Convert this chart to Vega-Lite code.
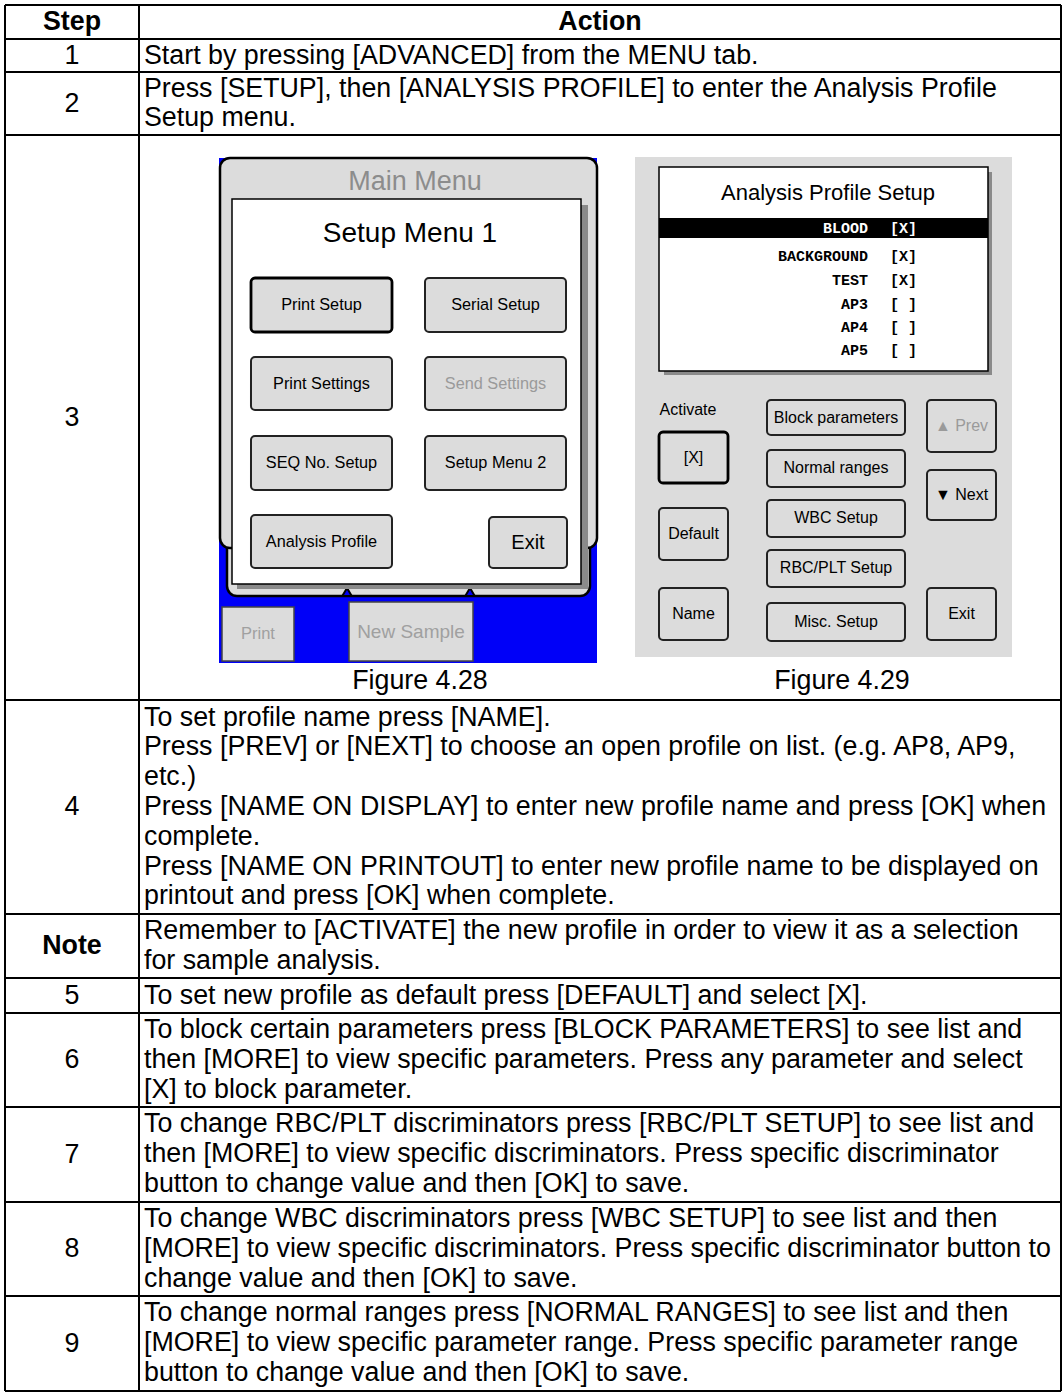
{
  "$schema": "https://vega.github.io/schema/vega-lite/v6.json",
  "width": 1063,
  "height": 1393,
  "autosize": {"type": "fit", "contains": "padding"},
  "padding": 0,
  "background": "#ffffff",
  "config": {"view": {"stroke": null}},
  "datasets": {
    "grid": [
      {"x": 5, "x2": 1061, "y": 5, "y2": 5},
      {"x": 5, "x2": 1061, "y": 39, "y2": 39},
      {"x": 5, "x2": 1061, "y": 72, "y2": 72},
      {"x": 5, "x2": 1061, "y": 135, "y2": 135},
      {"x": 5, "x2": 1061, "y": 700, "y2": 700},
      {"x": 5, "x2": 1061, "y": 914, "y2": 914},
      {"x": 5, "x2": 1061, "y": 978, "y2": 978},
      {"x": 5, "x2": 1061, "y": 1013, "y2": 1013},
      {"x": 5, "x2": 1061, "y": 1107, "y2": 1107},
      {"x": 5, "x2": 1061, "y": 1202, "y2": 1202},
      {"x": 5, "x2": 1061, "y": 1296, "y2": 1296},
      {"x": 5, "x2": 1061, "y": 1391, "y2": 1391},
      {"x": 5, "x2": 5, "y": 5, "y2": 1391},
      {"x": 139, "x2": 139, "y": 5, "y2": 1391},
      {"x": 1061, "x2": 1061, "y": 5, "y2": 1391}
    ],
    "shapes": [
      {"name": "screen 4.28", "kind": "backdrop-blue", "x": 219, "x2": 597, "y": 158, "y2": 663},
      {"name": "screen 4.29", "kind": "backdrop-gray", "x": 635, "x2": 1012, "y": 157, "y2": 657},
      {"name": "tab strip", "kind": "frame", "x": 227, "x2": 590, "y": 520, "y2": 596},
      {"name": "main frame", "kind": "frame", "x": 220, "x2": 597, "y": 158, "y2": 548},
      {"name": "setup panel shadow", "kind": "shadow", "x": 237, "x2": 588, "y": 205, "y2": 589},
      {"name": "profile panel shadow", "kind": "shadow", "x": 664, "x2": 992, "y": 172, "y2": 375},
      {"name": "setup panel", "kind": "panel", "x": 232, "x2": 581, "y": 199, "y2": 584},
      {"name": "profile panel", "kind": "panel", "x": 659, "x2": 988, "y": 167, "y2": 371},
      {"name": "selected row", "kind": "bar", "x": 659, "x2": 988, "y": 218, "y2": 238},
      {"name": "Print Setup", "kind": "button-active", "x": 251, "x2": 392, "y": 278, "y2": 332},
      {"name": "Serial Setup", "kind": "button", "x": 425, "x2": 566, "y": 278, "y2": 332},
      {"name": "Print Settings", "kind": "button", "x": 251, "x2": 392, "y": 357, "y2": 410},
      {"name": "Send Settings", "kind": "button", "x": 425, "x2": 566, "y": 357, "y2": 410},
      {"name": "SEQ No. Setup", "kind": "button", "x": 251, "x2": 392, "y": 436, "y2": 490},
      {"name": "Setup Menu 2", "kind": "button", "x": 425, "x2": 566, "y": 436, "y2": 490},
      {"name": "Analysis Profile", "kind": "button", "x": 251, "x2": 392, "y": 515, "y2": 568},
      {"name": "Exit 4.28", "kind": "button", "x": 489, "x2": 567, "y": 517, "y2": 568},
      {"name": "Activate X", "kind": "button-active", "x": 659, "x2": 728, "y": 432, "y2": 483},
      {"name": "Default", "kind": "button", "x": 659, "x2": 728, "y": 508, "y2": 560},
      {"name": "Name", "kind": "button", "x": 659, "x2": 728, "y": 588, "y2": 640},
      {"name": "Block parameters", "kind": "button", "x": 767, "x2": 905, "y": 400, "y2": 435},
      {"name": "Normal ranges", "kind": "button", "x": 767, "x2": 905, "y": 450, "y2": 487},
      {"name": "WBC Setup", "kind": "button", "x": 767, "x2": 905, "y": 500, "y2": 537},
      {"name": "RBC/PLT Setup", "kind": "button", "x": 767, "x2": 905, "y": 550, "y2": 587},
      {"name": "Misc. Setup", "kind": "button", "x": 767, "x2": 905, "y": 603, "y2": 641},
      {"name": "Prev", "kind": "button", "x": 927, "x2": 996, "y": 400, "y2": 452},
      {"name": "Next", "kind": "button", "x": 927, "x2": 996, "y": 470, "y2": 520},
      {"name": "Exit 4.29", "kind": "button", "x": 927, "x2": 996, "y": 588, "y2": 640},
      {"name": "Print", "kind": "dock", "x": 222, "x2": 294, "y": 607, "y2": 661},
      {"name": "New Sample", "kind": "dock", "x": 349, "x2": 473, "y": 602, "y2": 661}
    ],
    "notches": [
      {"name": "tab gap 1", "x": 347, "y": 592},
      {"name": "tab gap 2", "x": 470, "y": 592}
    ],
    "texts": [
      {"text": "Step", "x": 72, "y": 22, "role": "head"},
      {"text": "Action", "x": 600, "y": 22, "role": "head"},
      {"text": "1", "x": 72, "y": 55.5, "role": "step"},
      {"text": "Start by pressing [ADVANCED] from the MENU tab.", "x": 144, "y": 55.5, "role": "action"},
      {"text": "2", "x": 72, "y": 103.5, "role": "step"},
      {"text": "Press [SETUP], then [ANALYSIS PROFILE] to enter the Analysis Profile", "x": 144, "y": 88.6, "role": "action"},
      {"text": "Setup menu.", "x": 144, "y": 118.4, "role": "action"},
      {"text": "3", "x": 72, "y": 417.5, "role": "step"},
      {"text": "Figure 4.28", "x": 420, "y": 681, "role": "caption"},
      {"text": "Figure 4.29", "x": 842, "y": 681, "role": "caption"},
      {"text": "4", "x": 72, "y": 807, "role": "step"},
      {"text": "To set profile name press [NAME].", "x": 144, "y": 717.6, "role": "action"},
      {"text": "Press [PREV] or [NEXT] to choose an open profile on list. (e.g. AP8, AP9,", "x": 144, "y": 747.4, "role": "action"},
      {"text": "etc.)", "x": 144, "y": 777.2, "role": "action"},
      {"text": "Press [NAME ON DISPLAY] to enter new profile name and press [OK] when", "x": 144, "y": 807, "role": "action"},
      {"text": "complete.", "x": 144, "y": 836.8, "role": "action"},
      {"text": "Press [NAME ON PRINTOUT] to enter new profile name to be displayed on", "x": 144, "y": 866.6, "role": "action"},
      {"text": "printout and press [OK] when complete.", "x": 144, "y": 896.4, "role": "action"},
      {"text": "Note", "x": 72, "y": 946, "role": "head"},
      {"text": "Remember to [ACTIVATE] the new profile in order to view it as a selection", "x": 144, "y": 931.1, "role": "action"},
      {"text": "for sample analysis.", "x": 144, "y": 960.9, "role": "action"},
      {"text": "5", "x": 72, "y": 995.5, "role": "step"},
      {"text": "To set new profile as default press [DEFAULT] and select [X].", "x": 144, "y": 995.5, "role": "action"},
      {"text": "6", "x": 72, "y": 1060, "role": "step"},
      {"text": "To block certain parameters press [BLOCK PARAMETERS] to see list and", "x": 144, "y": 1030.2, "role": "action"},
      {"text": "then [MORE] to view specific parameters. Press any parameter and select", "x": 144, "y": 1060, "role": "action"},
      {"text": "[X] to block parameter.", "x": 144, "y": 1089.8, "role": "action"},
      {"text": "7", "x": 72, "y": 1154.5, "role": "step"},
      {"text": "To change RBC/PLT discriminators press [RBC/PLT SETUP] to see list and", "x": 144, "y": 1124.3, "role": "action"},
      {"text": "then [MORE] to view specific discriminators. Press specific discriminator", "x": 144, "y": 1154.1, "role": "action"},
      {"text": "button to change value and then [OK] to save.", "x": 144, "y": 1183.9, "role": "action"},
      {"text": "8", "x": 72, "y": 1249, "role": "step"},
      {"text": "To change WBC discriminators press [WBC SETUP] to see list and then", "x": 144, "y": 1219.2, "role": "action"},
      {"text": "[MORE] to view specific discriminators. Press specific discriminator button to", "x": 144, "y": 1249, "role": "action"},
      {"text": "change value and then [OK] to save.", "x": 144, "y": 1278.8, "role": "action"},
      {"text": "9", "x": 72, "y": 1343.5, "role": "step"},
      {"text": "To change normal ranges press [NORMAL RANGES] to see list and then", "x": 144, "y": 1313.3, "role": "action"},
      {"text": "[MORE] to view specific parameter range. Press specific parameter range", "x": 144, "y": 1343.1, "role": "action"},
      {"text": "button to change value and then [OK] to save.", "x": 144, "y": 1372.9, "role": "action"},
      {"text": "Main Menu", "x": 415, "y": 182, "role": "scr-title-dim"},
      {"text": "Setup Menu 1", "x": 410, "y": 234, "role": "scr-title"},
      {"text": "Print Setup", "x": 321.5, "y": 305, "role": "scr-btn"},
      {"text": "Serial Setup", "x": 495.5, "y": 305, "role": "scr-btn"},
      {"text": "Print Settings", "x": 321.5, "y": 384, "role": "scr-btn"},
      {"text": "Send Settings", "x": 495.5, "y": 384, "role": "scr-btn-dim"},
      {"text": "SEQ No. Setup", "x": 321.5, "y": 463, "role": "scr-btn"},
      {"text": "Setup Menu 2", "x": 495.5, "y": 463, "role": "scr-btn"},
      {"text": "Analysis Profile", "x": 321.5, "y": 542, "role": "scr-btn"},
      {"text": "Exit", "x": 528, "y": 543, "role": "scr-exit"},
      {"text": "Print", "x": 258, "y": 634, "role": "dock-s"},
      {"text": "New Sample", "x": 411, "y": 632, "role": "dock-l"},
      {"text": "Analysis Profile Setup", "x": 828, "y": 193, "role": "ap-title"},
      {"text": "BLOOD", "x": 868, "y": 228, "role": "ap-item-sel"},
      {"text": "[X]", "x": 890, "y": 228, "role": "ap-check-sel"},
      {"text": "BACKGROUND", "x": 868, "y": 256, "role": "ap-item"},
      {"text": "[X]", "x": 890, "y": 256, "role": "ap-check"},
      {"text": "TEST", "x": 868, "y": 280, "role": "ap-item"},
      {"text": "[X]", "x": 890, "y": 280, "role": "ap-check"},
      {"text": "AP3", "x": 868, "y": 304, "role": "ap-item"},
      {"text": "[ ]", "x": 890, "y": 304, "role": "ap-check"},
      {"text": "AP4", "x": 868, "y": 327, "role": "ap-item"},
      {"text": "[ ]", "x": 890, "y": 327, "role": "ap-check"},
      {"text": "AP5", "x": 868, "y": 350, "role": "ap-item"},
      {"text": "[ ]", "x": 890, "y": 350, "role": "ap-check"},
      {"text": "Activate", "x": 688, "y": 410, "role": "ap-btn"},
      {"text": "[X]", "x": 693.5, "y": 458, "role": "ap-btn"},
      {"text": "Default", "x": 693.5, "y": 534, "role": "ap-btn"},
      {"text": "Name", "x": 693.5, "y": 614, "role": "ap-btn"},
      {"text": "Block parameters", "x": 836, "y": 418, "role": "ap-btn"},
      {"text": "Normal ranges", "x": 836, "y": 468, "role": "ap-btn"},
      {"text": "WBC Setup", "x": 836, "y": 518, "role": "ap-btn"},
      {"text": "RBC/PLT Setup", "x": 836, "y": 568, "role": "ap-btn"},
      {"text": "Misc. Setup", "x": 836, "y": 622, "role": "ap-btn"},
      {"text": "▲ Prev", "x": 961.5, "y": 426, "role": "ap-btn-dim"},
      {"text": "▼ Next", "x": 961.5, "y": 495, "role": "ap-btn"},
      {"text": "Exit", "x": 961.5, "y": 614, "role": "ap-btn"}
    ]
  },
  "encoding": {
    "x": {"field": "x", "type": "quantitative", "scale": {"domain": [0, 1063], "nice": false, "zero": false}, "axis": null},
    "y": {"field": "y", "type": "quantitative", "scale": {"domain": [0, 1393], "nice": false, "zero": false, "reverse": true}, "axis": null}
  },
  "layer": [
    {"data": {"name": "shapes"}, "transform": [{"filter": "datum.kind === 'backdrop-blue'"}],
     "mark": {"type": "rect", "fill": "#0000f8"},
     "encoding": {"x2": {"field": "x2"}, "y2": {"field": "y2"}}},
    {"data": {"name": "shapes"}, "transform": [{"filter": "datum.kind === 'backdrop-gray'"}],
     "mark": {"type": "rect", "fill": "#dcdcdc"},
     "encoding": {"x2": {"field": "x2"}, "y2": {"field": "y2"}}},
    {"data": {"name": "shapes"}, "transform": [{"filter": "datum.kind === 'frame'"}],
     "mark": {"type": "rect", "fill": "#dcdcdc", "stroke": "#000000", "strokeWidth": 2.5, "cornerRadius": 10},
     "encoding": {"x2": {"field": "x2"}, "y2": {"field": "y2"}}},
    {"data": {"name": "notches"},
     "mark": {"type": "point", "shape": "triangle-up", "filled": true, "size": 90, "fill": "#0000f8", "stroke": "#000000", "strokeWidth": 2, "opacity": 1},
     "encoding": {}},
    {"data": {"name": "shapes"}, "transform": [{"filter": "datum.kind === 'shadow'"}],
     "mark": {"type": "rect", "fill": "#8a8a8a"},
     "encoding": {"x2": {"field": "x2"}, "y2": {"field": "y2"}}},
    {"data": {"name": "shapes"}, "transform": [{"filter": "datum.kind === 'panel'"}],
     "mark": {"type": "rect", "fill": "#ffffff", "stroke": "#000000", "strokeWidth": 1.5},
     "encoding": {"x2": {"field": "x2"}, "y2": {"field": "y2"}}},
    {"data": {"name": "shapes"}, "transform": [{"filter": "datum.kind === 'bar'"}],
     "mark": {"type": "rect", "fill": "#000000"},
     "encoding": {"x2": {"field": "x2"}, "y2": {"field": "y2"}}},
    {"data": {"name": "shapes"}, "transform": [{"filter": "datum.kind === 'button'"}],
     "mark": {"type": "rect", "fill": "#dcdcdc", "stroke": "#222222", "strokeWidth": 2, "cornerRadius": 4},
     "encoding": {"x2": {"field": "x2"}, "y2": {"field": "y2"}}},
    {"data": {"name": "shapes"}, "transform": [{"filter": "datum.kind === 'button-active'"}],
     "mark": {"type": "rect", "fill": "#dcdcdc", "stroke": "#000000", "strokeWidth": 2.8, "cornerRadius": 4},
     "encoding": {"x2": {"field": "x2"}, "y2": {"field": "y2"}}},
    {"data": {"name": "shapes"}, "transform": [{"filter": "datum.kind === 'dock'"}],
     "mark": {"type": "rect", "fill": "#dcdcdc", "stroke": "#444444", "strokeWidth": 1.5},
     "encoding": {"x2": {"field": "x2"}, "y2": {"field": "y2"}}},
    {"data": {"name": "grid"},
     "mark": {"type": "rule", "color": "#000000", "strokeWidth": 2},
     "encoding": {"x2": {"field": "x2"}, "y2": {"field": "y2"}}},
    {"data": {"name": "texts"}, "transform": [{"filter": "datum.role === 'head'"}],
     "mark": {"type": "text", "font": "Liberation Sans", "fontWeight": "bold", "fontSize": 26.8, "align": "center", "baseline": "middle", "color": "#000000"},
     "encoding": {"text": {"field": "text"}}},
    {"data": {"name": "texts"}, "transform": [{"filter": "datum.role === 'step' || datum.role === 'caption'"}],
     "mark": {"type": "text", "font": "Liberation Sans", "fontSize": 26.8, "align": "center", "baseline": "middle", "color": "#000000"},
     "encoding": {"text": {"field": "text"}}},
    {"data": {"name": "texts"}, "transform": [{"filter": "datum.role === 'action'"}],
     "mark": {"type": "text", "font": "Liberation Sans", "fontSize": 26.8, "align": "left", "baseline": "middle", "color": "#000000"},
     "encoding": {"text": {"field": "text"}}},
    {"data": {"name": "texts"}, "transform": [{"filter": "datum.role === 'scr-title-dim'"}],
     "mark": {"type": "text", "font": "Liberation Sans", "fontSize": 27, "align": "center", "baseline": "middle", "color": "#8c8c8c"},
     "encoding": {"text": {"field": "text"}}},
    {"data": {"name": "texts"}, "transform": [{"filter": "datum.role === 'scr-title'"}],
     "mark": {"type": "text", "font": "Liberation Sans", "fontSize": 28, "align": "center", "baseline": "middle", "color": "#000000"},
     "encoding": {"text": {"field": "text"}}},
    {"data": {"name": "texts"}, "transform": [{"filter": "datum.role === 'scr-btn'"}],
     "mark": {"type": "text", "font": "Liberation Sans", "fontSize": 16.3, "align": "center", "baseline": "middle", "color": "#000000"},
     "encoding": {"text": {"field": "text"}}},
    {"data": {"name": "texts"}, "transform": [{"filter": "datum.role === 'scr-btn-dim'"}],
     "mark": {"type": "text", "font": "Liberation Sans", "fontSize": 16.3, "align": "center", "baseline": "middle", "color": "#9a9a9a"},
     "encoding": {"text": {"field": "text"}}},
    {"data": {"name": "texts"}, "transform": [{"filter": "datum.role === 'scr-exit'"}],
     "mark": {"type": "text", "font": "Liberation Sans", "fontSize": 20, "align": "center", "baseline": "middle", "color": "#000000"},
     "encoding": {"text": {"field": "text"}}},
    {"data": {"name": "texts"}, "transform": [{"filter": "datum.role === 'dock-s'"}],
     "mark": {"type": "text", "font": "Liberation Sans", "fontSize": 16.5, "align": "center", "baseline": "middle", "color": "#a0a0a0"},
     "encoding": {"text": {"field": "text"}}},
    {"data": {"name": "texts"}, "transform": [{"filter": "datum.role === 'dock-l'"}],
     "mark": {"type": "text", "font": "Liberation Sans", "fontSize": 19, "align": "center", "baseline": "middle", "color": "#a0a0a0"},
     "encoding": {"text": {"field": "text"}}},
    {"data": {"name": "texts"}, "transform": [{"filter": "datum.role === 'ap-title'"}],
     "mark": {"type": "text", "font": "Liberation Sans", "fontSize": 22, "align": "center", "baseline": "middle", "color": "#000000"},
     "encoding": {"text": {"field": "text"}}},
    {"data": {"name": "texts"}, "transform": [{"filter": "datum.role === 'ap-item'"}],
     "mark": {"type": "text", "font": "Liberation Mono", "fontWeight": "bold", "fontSize": 15, "align": "right", "baseline": "middle", "color": "#000000"},
     "encoding": {"text": {"field": "text"}}},
    {"data": {"name": "texts"}, "transform": [{"filter": "datum.role === 'ap-item-sel'"}],
     "mark": {"type": "text", "font": "Liberation Mono", "fontWeight": "bold", "fontSize": 15, "align": "right", "baseline": "middle", "color": "#ffffff"},
     "encoding": {"text": {"field": "text"}}},
    {"data": {"name": "texts"}, "transform": [{"filter": "datum.role === 'ap-check'"}],
     "mark": {"type": "text", "font": "Liberation Mono", "fontWeight": "bold", "fontSize": 15, "align": "left", "baseline": "middle", "color": "#000000"},
     "encoding": {"text": {"field": "text"}}},
    {"data": {"name": "texts"}, "transform": [{"filter": "datum.role === 'ap-check-sel'"}],
     "mark": {"type": "text", "font": "Liberation Mono", "fontWeight": "bold", "fontSize": 15, "align": "left", "baseline": "middle", "color": "#ffffff"},
     "encoding": {"text": {"field": "text"}}},
    {"data": {"name": "texts"}, "transform": [{"filter": "datum.role === 'ap-btn'"}],
     "mark": {"type": "text", "font": "Liberation Sans", "fontSize": 16, "align": "center", "baseline": "middle", "color": "#000000"},
     "encoding": {"text": {"field": "text"}}},
    {"data": {"name": "texts"}, "transform": [{"filter": "datum.role === 'ap-btn-dim'"}],
     "mark": {"type": "text", "font": "Liberation Sans", "fontSize": 16, "align": "center", "baseline": "middle", "color": "#9a9a9a"},
     "encoding": {"text": {"field": "text"}}}
  ]
}
